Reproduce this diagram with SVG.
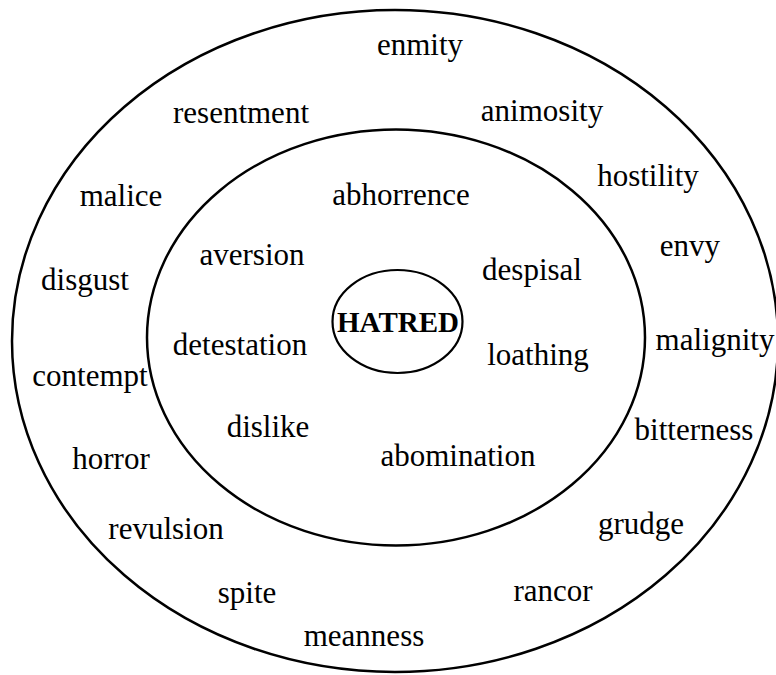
<svg xmlns="http://www.w3.org/2000/svg" width="776" height="675" viewBox="0 0 776 675">
  <style>
    .ring { fill: none; stroke: #000; stroke-width: 2.5; }
    .core { fill: #fff; stroke: #000; stroke-width: 2.2; }
    text { font-family: "Liberation Serif", "Times New Roman", serif; font-size: 31px; fill: #000; text-anchor: middle; }
    .title { font-weight: bold; font-size: 29px; }
  </style>
  <rect width="776" height="675" fill="#fff"/>

  <!-- concentric rings -->
  <g id="outer-ring">
    <ellipse class="ring" cx="395" cy="341" rx="383" ry="331"/>
  </g>
  <g id="middle-ring">
    <ellipse class="ring" cx="396" cy="337.5" rx="249" ry="208"/>
  </g>
  <g id="hatred">
    <ellipse class="core" cx="397.5" cy="321.5" rx="65" ry="51.5"/>
    <text class="title" x="398" y="332">HATRED</text>
  </g>

  <!-- inner ring words -->
  <g id="inner-words">
    <text x="401" y="205">abhorrence</text>
    <text x="252" y="265">aversion</text>
    <text x="532" y="280">despisal</text>
    <text x="240" y="355">detestation</text>
    <text x="538" y="365">loathing</text>
    <text x="268" y="437">dislike</text>
    <text x="458" y="466">abomination</text>
  </g>

  <!-- outer ring words -->
  <g id="outer-words">
    <text x="420" y="55">enmity</text>
    <text x="241" y="123">resentment</text>
    <text x="542" y="121">animosity</text>
    <text x="121" y="206">malice</text>
    <text x="648" y="186">hostility</text>
    <text x="690" y="256">envy</text>
    <text x="85" y="290">disgust</text>
    <text x="715" y="350">malignity</text>
    <text x="90" y="386">contempt</text>
    <text x="694" y="440">bitterness</text>
    <text x="111" y="469">horror</text>
    <text x="166" y="539">revulsion</text>
    <text x="641" y="534">grudge</text>
    <text x="247" y="603">spite</text>
    <text x="553" y="601">rancor</text>
    <text x="364" y="646">meanness</text>
  </g>
</svg>
